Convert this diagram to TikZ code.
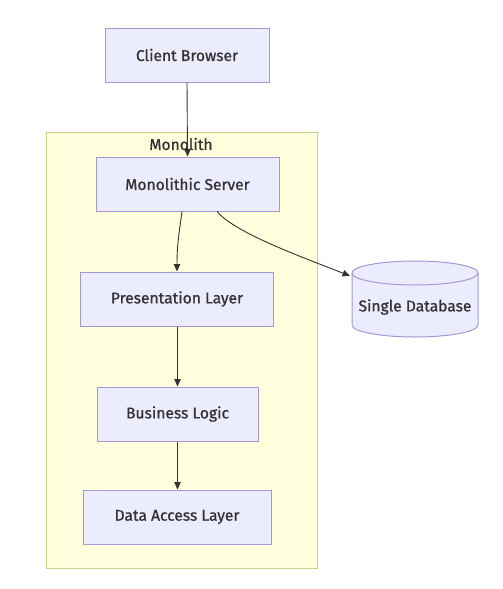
\documentclass[tikz,border=0pt]{standalone}
\usepackage{fontspec}
\setmainfont{Fira Sans}[FakeBold=0.9]
\usetikzlibrary{arrows.meta}
\definecolor{nodefill}{HTML}{ECECFF}
\definecolor{nodeline}{HTML}{A497D6}
\definecolor{clusterfill}{HTML}{FFFFDE}
\definecolor{clusterline}{HTML}{CFCF8C}
\definecolor{ink}{HTML}{333333}
\tikzset{
  lbl/.style={text=ink, font=\fontsize{15.6}{18}\selectfont},
  procbox/.style={lbl, draw=nodeline, fill=nodefill, line width=1pt,
    inner sep=0pt, anchor=center},
  link/.style={draw=ink, line width=0.9pt, -{Triangle[length=7.5pt,width=6.5pt]}},
}
\begin{document}
\begin{tikzpicture}[x=1pt,y=-1pt]
\useasboundingbox (0,0) rectangle (503,589);
\fill[white] (0,0) rectangle (503,589);
% cluster
\draw[draw=clusterline, fill=clusterfill, line width=1pt] (46,132) rectangle (317,568);
\node[lbl] (mono) at (181,144) {Monolith};
% nodes
\node[procbox, minimum width=164, minimum height=54] (client) at (187,55) {Client Browser};
\node[procbox, minimum width=183, minimum height=54] (server) at (187.5,184) {Monolithic Server};
\node[procbox, minimum width=193, minimum height=54] (pres) at (177,299) {Presentation Layer};
\node[procbox, minimum width=161, minimum height=54] (biz) at (177.5,414) {Business Logic};
\node[procbox, minimum width=188, minimum height=54] (dal) at (177,517) {Data Access Layer};
% database cylinder
\fill[nodefill] (352,273) -- (352,325) arc[start angle=180, end angle=0, x radius=63, y radius=12] -- (478,273) arc[start angle=0, end angle=-180, x radius=63, y radius=12] -- cycle;
\draw[nodeline, line width=1pt] (352,273) -- (352,325) arc[start angle=180, end angle=0, x radius=63, y radius=12] -- (478,273);
\draw[nodeline, line width=1pt] (415,273) ellipse [x radius=63, y radius=12];
\node[lbl, minimum width=126, minimum height=64, inner sep=0pt] (db) at (415,307) {Single Database};
\coordinate (dbin) at (350,276);
% connectors
\draw[link] (client.south) -- (server.north);
\draw[link] ([xshift=-5.5pt]server.south) .. controls ([xshift=-9pt,yshift=-25pt]server.south) and ([yshift=25pt]pres.north) .. (pres.north);
\draw[link] (biz.north |- pres.south) -- (biz.north);
\draw[link] (biz.south) -- (biz.south |- dal.north);
\draw[link] ([xshift=29.5pt]server.south) .. controls ([xshift=48pt,yshift=-22pt]server.south) and ([xshift=-45pt,yshift=18pt]dbin) .. (dbin);
\end{tikzpicture}
\end{document}
